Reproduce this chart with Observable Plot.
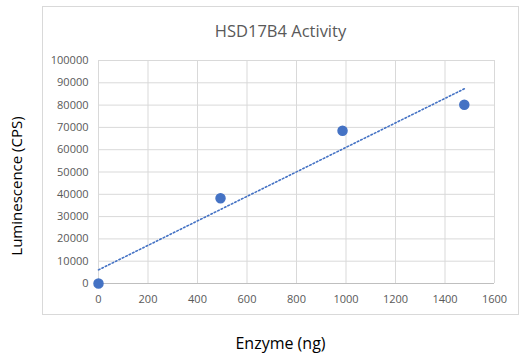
<!DOCTYPE html>
<html>
<head>
<meta charset="utf-8">
<script src="https://cdn.jsdelivr.net/npm/d3@7"></script>
<script src="https://cdn.jsdelivr.net/npm/@observablehq/plot@0.6"></script>
<style>
  body { margin: 0; background: #fff; }
  #wrap { position: relative; width: 527px; height: 360px; overflow: hidden; font-family: "Open Sans", "Liberation Sans", sans-serif; }
  #box { position: absolute; left: 42px; top: 6px; width: 477px; height: 309px; border: 1px solid #d9d9d9; box-sizing: border-box; }
  #title { position: absolute; left: 42px; width: 477px; top: 19px; text-align: center; font-size: 16.5px; color: #595959; }
  #xlabel { position: absolute; left: 42px; width: 477px; top: 332px; text-align: center; font-size: 16px; color: #000; }
  #ylabel { position: absolute; left: 16px; top: 186px; transform: translate(-50%, -50%) rotate(-90deg); white-space: nowrap; font-size: 15px; color: #000; }
  #chart { position: absolute; left: 0; top: 0; }
</style>
</head>
<body>
<div id="wrap">
  <div id="box"></div>
  <div id="chart"></div>
  <div id="title">HSD17B4 Activity</div>
  <div id="xlabel">Enzyme (ng)</div>
  <div id="ylabel">Luminescence (CPS)</div>
</div>
<script>
const enzyme = [0, 493, 986, 1478];
const luminescence = [0, 38250, 68480, 80130];
const xTicks = [0, 200, 400, 600, 800, 1000, 1200, 1400, 1600];
const yTicks = [0, 10000, 20000, 30000, 40000, 50000, 60000, 70000, 80000, 90000, 100000];

const data = enzyme.map((x, i) => ({x, y: luminescence[i]}));

const blue = "#4472c4";
const chart = Plot.plot({
  width: 527,
  height: 360,
  marginLeft: 98,
  marginRight: 33,
  marginTop: 60,
  marginBottom: 77,
  style: { fontFamily: "'Open Sans', 'Liberation Sans', sans-serif", fontSize: "11px", color: "#595959", background: "transparent" },
  x: { domain: [0, 1600], ticks: xTicks, tickFormat: d => String(d), label: null },
  y: { domain: [0, 100000], ticks: yTicks, tickFormat: d => String(d), label: null },
  marks: [
    Plot.gridX(xTicks, { stroke: "#d9d9d9", strokeOpacity: 1, strokeWidth: 1 }),
    Plot.gridY(yTicks, { stroke: "#d9d9d9", strokeOpacity: 1, strokeWidth: 1 }),
    Plot.ruleY([0], { stroke: "#bfbfbf", strokeWidth: 1.2 }),
    Plot.axisX({ ticks: xTicks, tickSize: 0, tickPadding: 12, tickFormat: d => String(d), fill: "#595959", fontSize: 11, label: null }),
    Plot.axisY({ ticks: yTicks, tickSize: 0, tickPadding: 10, tickFormat: d => String(d), fill: "#595959", fontSize: 11, label: null }),
    Plot.linearRegressionY(data, { x: "x", y: "y", ci: 0, stroke: blue, strokeWidth: 1.6, strokeDasharray: "1.6,2.2" }),
    Plot.dot(data, { x: "x", y: "y", r: 4.5, fill: blue, stroke: blue })
  ]
});
document.getElementById("chart").appendChild(chart);
</script>
</body>
</html>
